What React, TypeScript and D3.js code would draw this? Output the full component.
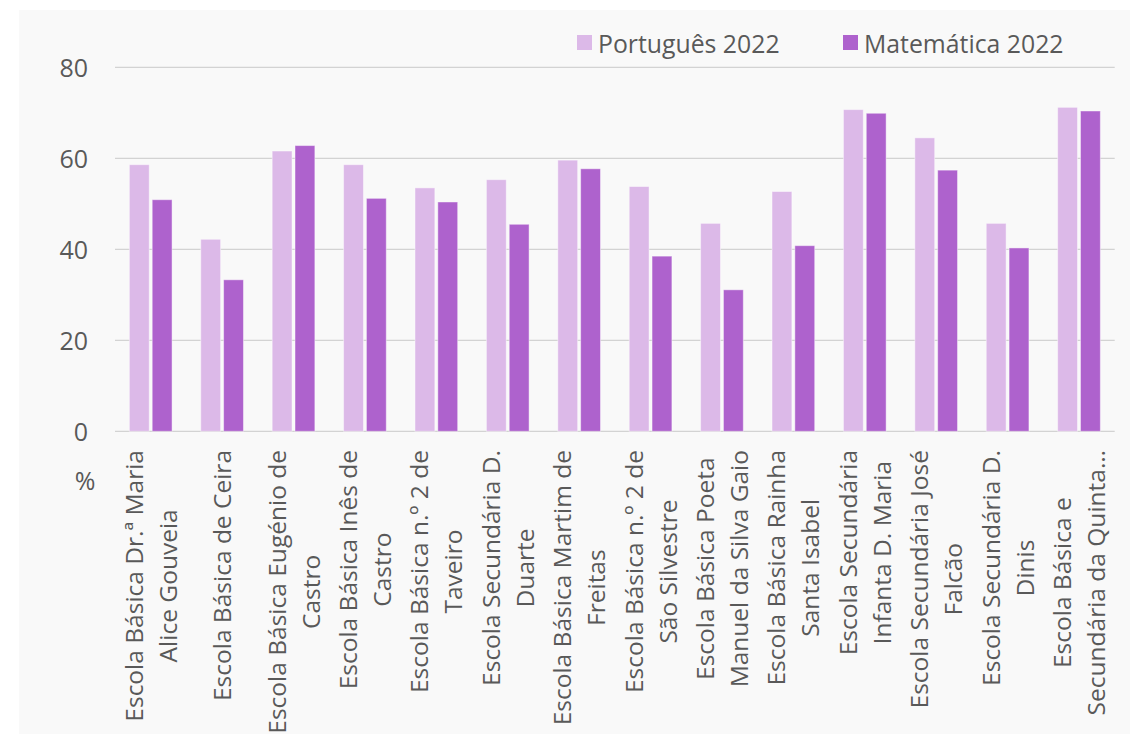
import React, { useEffect, useRef } from "react";
import * as d3 from "d3";

const categories: string[][] = [
  ["Escola Básica Dr.ª Maria", "Alice Gouveia"],
  ["Escola Básica de Ceira"],
  ["Escola Básica Eugénio de", "Castro"],
  ["Escola Básica Inês de", "Castro"],
  ["Escola Básica n.º 2 de", "Taveiro"],
  ["Escola Secundária D.", "Duarte"],
  ["Escola Básica Martim de", "Freitas"],
  ["Escola Básica n.º 2 de", "São Silvestre"],
  ["Escola Básica Poeta", "Manuel da Silva Gaio"],
  ["Escola Básica Rainha", "Santa Isabel"],
  ["Escola Secundária", "Infanta D. Maria"],
  ["Escola Secundária José", "Falcão"],
  ["Escola Secundária D.", "Dinis"],
  ["Escola Básica e", "Secundária da Quinta…"],
];

const seriesNames = ["Português 2022", "Matemática 2022"];
const portugues = [58.6, 42.2, 61.6, 58.6, 53.5, 55.3, 59.6, 53.8, 45.7, 52.7, 70.7, 64.5, 45.7, 71.2];
const matematica = [50.9, 33.3, 62.8, 51.2, 50.4, 45.5, 57.7, 38.5, 31.1, 40.8, 69.9, 57.4, 40.3, 70.4];
const yTicks = [0, 20, 40, 60, 80];
const colors = ["#dcb9e8", "#ae62cd"];

const W = 1138;
const H = 736;
const FONT = "'Open Sans', sans-serif";
const TXT = "#595959";

export default function App() {
  const ref = useRef<SVGSVGElement | null>(null);

  useEffect(() => {
    const svg = d3.select(ref.current);
    svg.selectAll("*").remove();

    svg.append("rect").attr("x", 0).attr("y", 0).attr("width", W).attr("height", H).attr("fill", "#ffffff");
    svg.append("rect").attr("x", 19).attr("y", 10).attr("width", 1111).attr("height", 724).attr("fill", "#f9f9f9");

    const left = 115, right = 1114.7, top = 67.3, bottom = 431.3;
    const idx = categories.map((_, i) => String(i));
    const x0 = d3.scaleBand<string>().domain(idx).range([left, right]).paddingInner(0.402).paddingOuter(0.201);
    const x1 = d3.scaleBand<string>().domain(seriesNames).range([0, x0.bandwidth()]).paddingInner(0.13);
    const y = d3.scaleLinear().domain([0, 80]).range([bottom, top]);

    // gridlines
    svg.append("g").selectAll("line").data(yTicks).join("line")
      .attr("x1", left).attr("x2", right)
      .attr("y1", (d) => y(d)).attr("y2", (d) => y(d))
      .attr("stroke", "#d3d3d3").attr("stroke-width", 1.3);

    // y tick labels
    svg.append("g").selectAll("text").data(yTicks).join("text")
      .attr("x", 88).attr("y", (d) => y(d))
      .attr("text-anchor", "end").attr("dominant-baseline", "central")
      .attr("font-family", FONT).attr("font-size", 25).attr("fill", TXT)
      .text((d) => String(d));

    svg.append("text").attr("x", 85).attr("y", 480)
      .attr("text-anchor", "middle").attr("dominant-baseline", "central")
      .attr("font-family", FONT).attr("font-size", 25).attr("fill", TXT).text("%");

    // bars
    const series = [portugues, matematica];
    series.forEach((vals, s) => {
      svg.append("g").selectAll("rect").data(vals).join("rect")
        .attr("x", (_, i) => (x0(String(i)) as number) + (x1(seriesNames[s]) as number))
        .attr("y", (d) => y(d))
        .attr("width", x1.bandwidth())
        .attr("height", (d) => bottom - y(d))
        .attr("fill", colors[s])
        .attr("stroke", "rgba(255,255,255,0.45)")
        .attr("stroke-width", 1);
    });

    // category labels
    const lineGap = 34;
    const labelTop = 450;
    const gl = svg.append("g");
    categories.forEach((lines, i) => {
      const cx = (x0(String(i)) as number) + x0.bandwidth() / 2;
      const texts = lines.map((ln, j) => {
        const bx = cx + (j - (lines.length - 1) / 2) * lineGap + 9;
        return gl.append("text")
          .attr("transform", `translate(${bx},0) rotate(-90)`)
          .attr("font-family", FONT).attr("font-size", 24.5).attr("fill", TXT)
          .attr("text-anchor", "middle")
          .text(ln);
      });
      const widths = texts.map((t) => (t.node() as SVGTextElement).getComputedTextLength());
      const maxW = Math.max(...widths);
      texts.forEach((t) => t.attr("x", -(labelTop + maxW / 2)).attr("y", 0));
    });

    // legend
    const legendX = [577, 843];
    seriesNames.forEach((name, s) => {
      svg.append("rect").attr("x", legendX[s]).attr("y", 35).attr("width", 15).attr("height", 15).attr("fill", colors[s]);
      svg.append("text").attr("x", legendX[s] + 21).attr("y", 43)
        .attr("dominant-baseline", "central")
        .attr("font-family", FONT).attr("font-size", 24.8).attr("fill", TXT).text(name);
    });
  }, []);

  return (
    <svg ref={ref} width={W} height={H} style={{ position: "absolute", left: 0, top: 0, display: "block" }} />
  );
}
